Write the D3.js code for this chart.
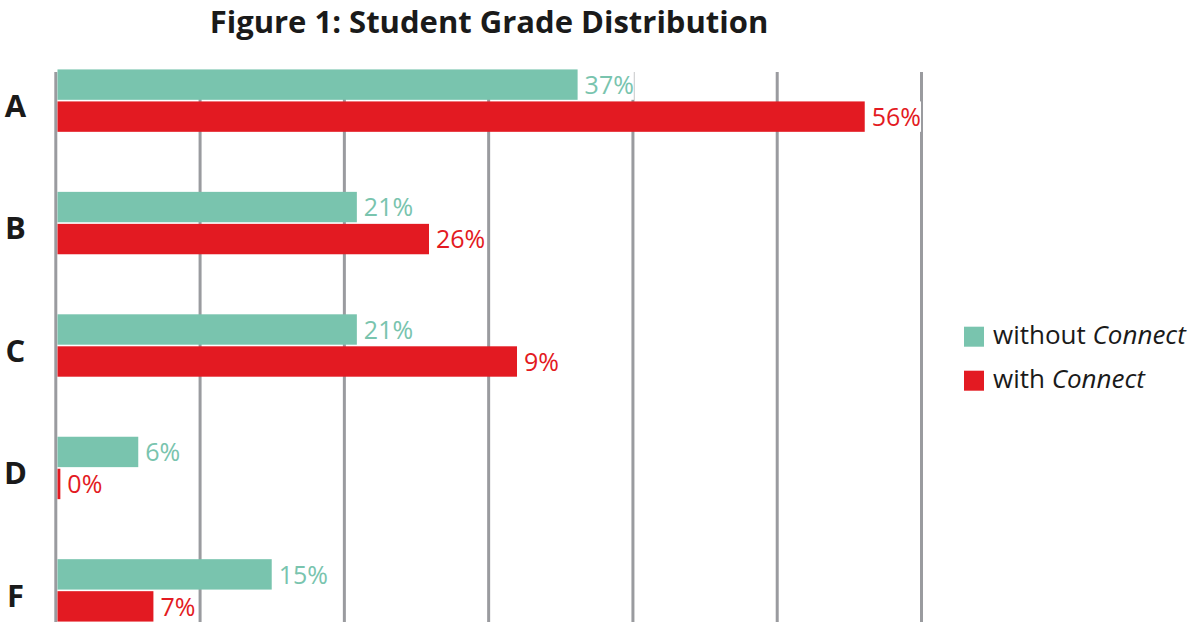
<!DOCTYPE html>
<html>
<head>
<meta charset="utf-8">
<script src="https://cdn.jsdelivr.net/npm/d3@7"></script>
<style>
  html, body { margin: 0; padding: 0; background: #ffffff; }
  svg { display: block; }
</style>
</head>
<body>
<svg id="chart" width="1200" height="640"></svg>
<script>
// ---- data ----
const titleText = "Figure 1: Student Grade Distribution";
const categories = ["A", "B", "C", "D", "F"];
const seriesKeys = ["without", "with"];
const seriesPrefix = ["without ", "with "];
const seriesItalic = ["Connect", "Connect"];
// bar lengths as drawn in the reference (percent)
const withoutValues = [36.2, 20.9, 20.9, 5.75, 15.0];
const withValues = [56.1, 25.9, 32.0, 0.35, 6.8];
// data labels as printed in the reference
const withoutLabels = ["37%", "21%", "21%", "6%", "15%"];
const withLabels = ["56%", "26%", "9%", "0%", "7%"];
const gridTicks = [0, 10, 20, 30, 40, 50, 60];

// ---- styles ----
const colors = { without: "#79C4AE", with: "#E31A22" };
const gridColor = "#9A9B9F";
const textColor = "#1A1A1A";
const fontFamily = "'Open Sans', 'Noto Sans', sans-serif";

const svg = d3.select("#chart");

const x = d3.scaleLinear().domain([0, 60]).range([55.3, 921]);
const y = d3.scaleBand().domain(categories).range([39.4, 651.6]).paddingInner(0).paddingOuter(0);
const step = y.step();
const ySub = d3.scaleBand().domain(seriesKeys)
  .range([step / 2 - 31.2, step / 2 + 31.2]).paddingInner(0.05);

// gridlines
const grid = svg.append("g")
  .attr("transform", "translate(0,72)")
  .call(d3.axisBottom(x).tickValues(gridTicks).tickSize(550).tickFormat(""));
grid.select(".domain").remove();
grid.selectAll(".tick line").attr("stroke", gridColor).attr("stroke-width", 3);

// title
svg.append("text")
  .attr("x", 489).attr("y", 33)
  .attr("text-anchor", "middle")
  .attr("font-family", fontFamily)
  .attr("font-weight", 700)
  .attr("font-size", 31)
  .attr("fill", textColor)
  .text(titleText);

// rows
const rows = categories.map((c, i) => ({
  cat: c,
  values: [
    { key: "without", v: withoutValues[i], label: withoutLabels[i] },
    { key: "with", v: withValues[i], label: withLabels[i] }
  ]
}));

const rowG = svg.append("g").selectAll("g.row")
  .data(rows).join("g")
  .attr("class", "row")
  .attr("transform", d => `translate(0,${y(d.cat)})`);

const barStart = x(0) + 2.2;
rowG.selectAll("rect.bar")
  .data(d => d.values).join("rect")
  .attr("class", "bar")
  .attr("x", barStart)
  .attr("y", d => ySub(d.key))
  .attr("width", d => Math.max(0, x(d.v) - barStart))
  .attr("height", ySub.bandwidth())
  .attr("fill", d => colors[d.key]);

// labels with white background boxes
const lab = rowG.selectAll("g.lab")
  .data(d => d.values).join("g")
  .attr("class", "lab");

lab.append("text")
  .attr("x", d => x(d.v) + 7)
  .attr("y", d => ySub(d.key) + ySub.bandwidth() / 2)
  .attr("dy", "0.37em")
  .attr("font-family", fontFamily)
  .attr("font-size", 25)
  .attr("fill", d => colors[d.key])
  .text(d => d.label);

lab.each(function(d) {
  const g = d3.select(this);
  const bb = g.select("text").node().getBBox();
  g.insert("rect", "text")
    .attr("x", bb.x)
    .attr("y", ySub(d.key))
    .attr("width", bb.width)
    .attr("height", ySub.bandwidth())
    .attr("fill", "#ffffff");
});

// category labels
svg.append("g").selectAll("text")
  .data(categories).join("text")
  .attr("x", 15.5)
  .attr("y", d => y(d) + step / 2 + 5)
  .attr("dy", "0.36em")
  .attr("text-anchor", "middle")
  .attr("font-family", fontFamily)
  .attr("font-weight", 700)
  .attr("font-size", 31)
  .attr("fill", textColor)
  .text(d => d);

// legend
const legY = d3.scaleBand().domain(seriesKeys).range([326.7, 414.7]);
const leg = svg.append("g").selectAll("g")
  .data(seriesKeys).join("g")
  .attr("transform", d => `translate(964,${legY(d)})`);
leg.append("rect")
  .attr("width", 20).attr("height", 20)
  .attr("fill", d => colors[d]);
const legText = leg.append("text")
  .attr("x", 29).attr("y", 17.5)
  .attr("font-family", fontFamily)
  .attr("font-size", 26)
  .attr("fill", textColor);
legText.append("tspan").text((d, i) => seriesPrefix[i]);
legText.append("tspan").attr("font-style", "italic").text((d, i) => seriesItalic[i]);
</script>
</body>
</html>
